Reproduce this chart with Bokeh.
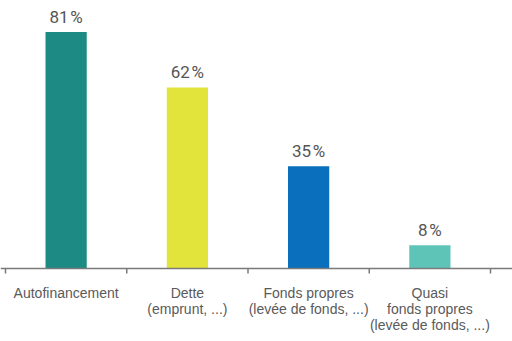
from bokeh.plotting import figure
from bokeh.models import ColumnDataSource, Range1d
from bokeh.core.properties import value
from bokeh.embed import file_html
from bokeh.resources import INLINE

categories = ["Autofinancement", "Dette\n(emprunt, ...)", "Fonds propres\n(levée de fonds, ...)",
              "Quasi\nfonds propres\n(levée de fonds, ...)"]
values = [81, 62, 35, 8]
colors = ["#1d8a84", "#e3e43b", "#0a6fbd", "#5ec4b8"]
value_labels = [f"{v}\u200a%" for v in values]

W, H = 512, 341
px_per_unit_x = 121.25
px_per_pct = 2.92
base_px = 268
left_px = 5

x_start = -left_px / px_per_unit_x
x_end = (W - left_px) / px_per_unit_x
y_end = base_px / px_per_pct
y_start = -(H - base_px) / px_per_pct

xs = [i + 0.5 for i in range(len(categories))]
src = ColumnDataSource(dict(x=xs, top=values, color=colors, lab=value_labels, cat=categories))

p = figure(width=W, height=H, output_backend="svg", toolbar_location=None,
           x_range=Range1d(x_start, x_end), y_range=Range1d(y_start, y_end),
           x_axis_location=None, y_axis_location=None,
           min_border=0, min_border_left=0, min_border_right=0, min_border_top=0, min_border_bottom=0)
p.outline_line_color = None
p.grid.visible = False
p.background_fill_color = "white"
p.border_fill_color = "white"

p.vbar(x="x", top="top", bottom=0, width=0.34, fill_color="color", line_color=None, source=src)

# axis line and ticks
ticks = list(range(len(categories) + 1))
p.segment(x0=[x_start], y0=[0], x1=[x_end], y1=[0], line_color="#7a7a7a", line_width=1.5)
p.segment(x0=ticks, y0=[0] * len(ticks), x1=ticks, y1=[-5 / px_per_pct] * len(ticks),
          line_color="#7a7a7a", line_width=1.5)

p.text(x="x", y="top", text="lab", source=src, text_align="center", text_baseline="bottom",
       y_offset=-5, text_font=value("Roboto"), text_font_size="17px", text_color="#555555")

p.text(x="x", y=-(284 - base_px) / px_per_pct, text="cat", source=src, text_align="center",
       text_baseline="top", text_font=value("Liberation Sans"), text_font_size="14px",
       text_color="#5a5a5a", text_line_height=1.0)

open("out.html", "w").write(file_html(p, INLINE))
